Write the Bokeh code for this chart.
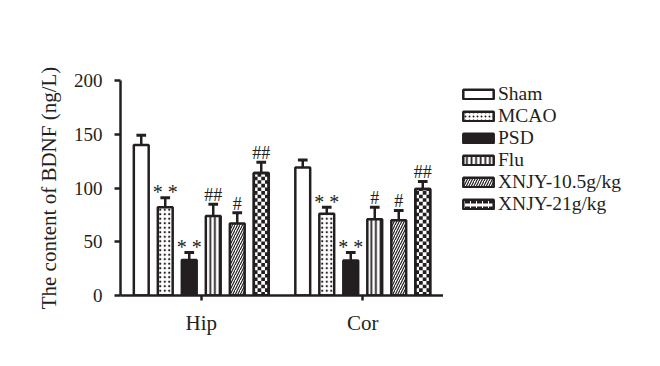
import numpy as np
from bokeh.plotting import figure
from bokeh.layouts import row
from bokeh.models import Range1d, FixedTicker, Legend, LegendItem
from bokeh.core.properties import value
from bokeh.embed import file_html
from bokeh.resources import INLINE

# ---- data ----
regions = ["Hip", "Cor"]
groups = ["Sham", "MCAO", "PSD", "Flu", "XNJY-10.5g/kg", "XNJY-21g/kg"]
hip_mean = [140, 82, 33, 74, 67, 114]
hip_err = [9, 9, 7, 11, 10, 10]
cor_mean = [119, 76, 32.5, 71, 70, 99]
cor_err = [7, 6, 7.5, 11, 9, 7]
hip_sig = ["", "**", "**", "##", "#", "##"]
cor_sig = ["", "**", "**", "#", "#", "##"]
y_ticks = [0, 50, 100, 150, 200]

DARK = "#231f20"
FONT = "Liberation Serif"

p = figure(width=443, height=360, output_backend="svg", toolbar_location=None,
           x_range=Range1d(-0.5, 1.5), y_range=Range1d(0, 200),
           min_border_left=120, min_border_right=0, min_border_top=80,
           min_border_bottom=65)
p.outline_line_color = None
p.grid.visible = False
p.background_fill_color = "white"

# legend panel (separate figure so that the legend is not clipped)
lg = figure(width=215, height=360, output_backend="svg", toolbar_location=None,
            x_range=Range1d(0, 1), y_range=Range1d(0, 1),
            x_axis_location=None, y_axis_location=None,
            min_border_left=0, min_border_right=0, min_border_top=80, min_border_bottom=65)
lg.outline_line_color = None
lg.grid.visible = False

pitch = 0.1486
bw = 0.092
capw = 0.06

styles = [
    dict(fill_color="white"),
    dict(fill_color="white", hatch_pattern="dot", hatch_color=DARK, hatch_scale=4.5, hatch_weight=1.1),
    dict(fill_color=DARK),
    dict(fill_color="white", hatch_pattern="vertical_line", hatch_color=DARK, hatch_scale=4.6, hatch_weight=1.8),
    dict(fill_color="white", hatch_pattern="right_diagonal_line", hatch_color=DARK, hatch_scale=5.0, hatch_weight=1.2),
    dict(fill_color="white"),
]

legend_items = []
for i, g in enumerate(groups):
    off = (i - 2.5) * pitch
    xs = [k + off for k in range(len(regions))]
    tops = [hip_mean[i], cor_mean[i]]
    errs = [hip_err[i], cor_err[i]]
    ups = [t + e for t, e in zip(tops, errs)]
    # error bars
    p.segment(x0=xs, y0=tops, x1=xs, y1=ups, line_color=DARK, line_width=2.5)
    p.segment(x0=[x - capw / 2 for x in xs], y0=ups, x1=[x + capw / 2 for x in xs], y1=ups,
              line_color=DARK, line_width=3)
    # bars
    p.vbar(x=xs, top=tops, width=bw, bottom=0, line_color=DARK, line_width=2.5, **styles[i])
    if g == "XNJY-21g/kg":
        cx, cy, cw, ch = [], [], [], []
        ncol = 4
        cell_h = 3.35
        for x, t in zip(xs, tops):
            w = bw / ncol
            nrow = int(np.ceil(t / cell_h))
            for r in range(nrow):
                y0 = r * cell_h
                h = min(cell_h, t - y0)
                for c in range(ncol):
                    if (r + c) % 2 == 0:
                        cx.append(x - bw / 2 + (c + 0.5) * w)
                        cy.append(y0 + h / 2)
                        cw.append(w)
                        ch.append(h)
        p.rect(x=cx, y=cy, width=cw, height=ch, fill_color=DARK, line_color=None)
        p.vbar(x=xs, top=tops, width=bw, bottom=0, line_color=DARK, line_width=2.5, fill_color=None)
    # significance marks
    sigs = [hip_sig[i], cor_sig[i]]
    for x, u, s in zip(xs, ups, sigs):
        if not s:
            continue
        if s == "**":
            p.text(x=[x], y=[u + 5.0], text=["* *"], text_font=value(FONT), text_font_size="20px",
                   text_align="center", text_baseline="alphabetic", text_color=DARK)
        else:
            p.text(x=[x], y=[u + 8.5], text=[s], text_font=value(FONT), text_font_size="18px",
                   text_align="center", text_baseline="alphabetic", text_color=DARK)
    # legend proxy renderer (NaN data, so it draws nothing in the panel itself)
    lst = dict(styles[i])
    if g == "XNJY-21g/kg":
        lst = dict(fill_color="white", hatch_pattern="horizontal_dash", hatch_color=DARK,
                   hatch_scale=6, hatch_weight=3)
    if g == "MCAO":
        lst["hatch_scale"] = 4.0
    proxy = lg.vbar(x=[float("nan")], top=[float("nan")], bottom=[float("nan")], width=0.1,
                    line_color=DARK, line_width=2.5, **lst)
    legend_items.append(LegendItem(label=g, renderers=[proxy]))

legend = Legend(items=legend_items, location=(16, 80), glyph_width=38, glyph_height=12,
                label_text_font=FONT, label_text_font_size="19.5px", label_text_color=DARK,
                label_standoff=1, spacing=0, label_height=20, padding=0, margin=0,
                border_line_color=None, background_fill_alpha=0)
lg.add_layout(legend)

# axes
for ax in (p.xaxis[0], p.yaxis[0]):
    ax.axis_line_color = DARK
    ax.axis_line_width = 2.5
    ax.major_tick_line_color = DARK
    ax.major_tick_line_width = 2.5
    ax.major_tick_in = 0
    ax.minor_tick_line_color = None
    ax.major_label_text_font = FONT
    ax.major_label_text_color = DARK

p.yaxis.ticker = FixedTicker(ticks=y_ticks)
p.yaxis.major_tick_out = 6
p.yaxis.major_label_text_font_size = "19px"
p.yaxis.major_label_standoff = 12
p.yaxis.axis_label = "The content of BDNF (ng/L)"
p.yaxis.axis_label_text_font = FONT
p.yaxis.axis_label_text_font_size = "21px"
p.yaxis.axis_label_text_font_style = "normal"
p.yaxis.axis_label_text_color = DARK
p.yaxis.axis_label_standoff = 10

p.xaxis.ticker = FixedTicker(ticks=list(range(len(regions))))
p.xaxis.major_label_overrides = {k: r for k, r in enumerate(regions)}
p.xaxis.major_tick_out = 5
p.xaxis.major_label_text_font_size = "21px"
p.xaxis.major_label_standoff = 10

layout = row(p, lg)
open("out.html", "w").write(file_html(layout, INLINE))
